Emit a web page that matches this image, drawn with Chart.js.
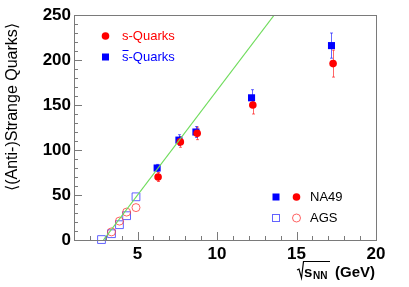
<!DOCTYPE html>
<html>
<head>
<meta charset="utf-8">
<script src="https://cdn.jsdelivr.net/npm/chart.js@4/dist/chart.umd.min.js"></script>
<style>
  body { margin: 0; background: #fff; }
  #wrap { width: 409px; height: 287px; }
</style>
</head>
<body>
<div id="wrap"><canvas id="c"></canvas></div>
<script>
// NA49 (filled markers)
var na49X_s = [6.29, 7.69, 8.75, 12.25, 17.3];
var na49Y_s = [70, 109, 118.5, 150, 196];
var na49E_s = [5, 6, 7, 10, 15];
var na49X_sbar = [6.23, 7.6, 8.67, 12.17, 17.2];
var na49Y_sbar = [80, 111, 120, 158, 216];
var na49E_sbar = [4, 6, 6, 9, 14];
// AGS (open markers)
var agsX_s = [3.36, 3.86, 4.31, 4.9];
var agsY_s = [9, 21, 31, 36];
var agsX_sbar = [2.73, 3.36, 3.86, 4.31, 4.9];
var agsY_sbar = [0.5, 7, 17, 27, 48];
// green line
var lineX = [2.85, 13.6];
var lineY = [0, 250];

var xTicks = [5, 10, 15, 20];
var yTicks = [0, 50, 100, 150, 200, 250];

function pts(xs, ys) {
    return xs.map(function (x, i) { return { x: x, y: ys[i] }; });
}

var RED = '#ff0000';
var BLUE = '#0000ff';

var errBars = [
    { xs: na49X_s, ys: na49Y_s, es: na49E_s, color: RED },
    { xs: na49X_sbar, ys: na49Y_sbar, es: na49E_sbar, color: BLUE }
];

var decor = {
    id: 'decor',
    beforeDatasetsDraw: function (chart) {
        var ctx = chart.ctx;
        var xs = chart.scales.x, ys = chart.scales.y;
        ctx.save();
        // error bars
        errBars.forEach(function (b) {
            ctx.strokeStyle = b.color;
            ctx.globalAlpha = 0.6;
            ctx.lineWidth = 1;
            b.xs.forEach(function (x, i) {
                var px = Math.round(xs.getPixelForValue(x)) + 0.5;
                var top = ys.getPixelForValue(b.ys[i] + b.es[i]);
                var bot = ys.getPixelForValue(b.ys[i] - b.es[i]);
                ctx.beginPath();
                ctx.moveTo(px, top); ctx.lineTo(px, bot);
                ctx.moveTo(px - 1.5, top); ctx.lineTo(px + 1.5, top);
                ctx.moveTo(px - 1.5, bot); ctx.lineTo(px + 1.5, bot);
                ctx.stroke();
            });
        });
        ctx.restore();
    },
    afterDraw: function (chart) {
        var ctx = chart.ctx, a = chart.chartArea;
        var xs = chart.scales.x, ys = chart.scales.y;
        ctx.save();
        // frame
        ctx.strokeStyle = '#7a7a7a';
        ctx.lineWidth = 1;
        ctx.strokeRect(Math.round(a.left) + 0.5, Math.round(a.top) + 0.5,
            Math.round(a.right - a.left), Math.round(a.bottom - a.top));
        // small ticks inside the frame
        ctx.beginPath();
        for (var v = 0; v <= 250; v += 10) {
            var py = Math.round(ys.getPixelForValue(v)) + 0.5;
            var len = (v % 50 === 0) ? 8 : 4;
            ctx.moveTo(a.left, py); ctx.lineTo(a.left + len, py);
        }
        for (var u = 2; u <= 20; u += 1) {
            var px = Math.round(xs.getPixelForValue(u)) + 0.5;
            var l2 = (u % 5 === 0) ? 8 : 4;
            ctx.moveTo(px, a.bottom); ctx.lineTo(px, a.bottom - l2);
        }
        ctx.stroke();

        // y title
        ctx.fillStyle = '#000';
        ctx.save();
        ctx.translate(13, 107);
        ctx.rotate(-Math.PI / 2);
        ctx.font = '16px "Liberation Sans", Arial, sans-serif';
        ctx.textAlign = 'center';
        ctx.textBaseline = 'middle';
        ctx.fillText('\u27E8(Anti-)Strange Quarks\u27E9', 0, 0);
        ctx.restore();

        // x title: sqrt(s_NN) (GeV)
        ctx.font = 'bold 15px "Liberation Sans", Arial, sans-serif';
        ctx.textAlign = 'left';
        ctx.textBaseline = 'alphabetic';
        var base = 277;
        ctx.fillText('s', 304, base);
        ctx.font = 'bold 10px "Liberation Sans", Arial, sans-serif';
        ctx.fillText('NN', 313, base + 2);
        ctx.font = 'bold 15px "Liberation Sans", Arial, sans-serif';
        ctx.fillText('(GeV)', 335, base);
        ctx.strokeStyle = '#000';
        ctx.lineWidth = 1.2;
        ctx.beginPath();
        ctx.moveTo(297, 270); ctx.lineTo(299, 269);
        ctx.lineTo(301.5, 278); ctx.lineTo(303.5, 261.5);
        ctx.lineTo(330, 261.5);
        ctx.stroke();

        // legend 1 (top left)
        ctx.font = '13px "Liberation Sans", Arial, sans-serif';
        ctx.textBaseline = 'middle';
        ctx.fillStyle = RED;
        ctx.beginPath(); ctx.arc(105.5, 36, 3.8, 0, Math.PI * 2); ctx.fill();
        ctx.fillText('s-Quarks', 122, 36);
        ctx.fillStyle = BLUE;
        ctx.fillRect(102, 53.5, 7, 7);
        ctx.fillText('s-Quarks', 122, 57);
        ctx.strokeStyle = BLUE;
        ctx.lineWidth = 1;
        ctx.beginPath(); ctx.moveTo(122.5, 50.5); ctx.lineTo(128.5, 50.5); ctx.stroke();

        // legend 2 (bottom right)
        ctx.fillStyle = BLUE;
        ctx.fillRect(272.5, 193.5, 7, 7);
        ctx.fillStyle = RED;
        ctx.beginPath(); ctx.arc(296.5, 197, 3.8, 0, Math.PI * 2); ctx.fill();
        ctx.fillStyle = '#000';
        ctx.fillText('NA49', 310, 197);
        ctx.strokeStyle = 'rgba(60,60,255,0.8)';
        ctx.strokeRect(272.5, 214.5, 7, 7);
        ctx.strokeStyle = 'rgba(255,60,60,0.8)';
        ctx.beginPath(); ctx.arc(296.5, 218, 4, 0, Math.PI * 2); ctx.stroke();
        ctx.fillText('AGS', 310, 218);
        ctx.restore();
    }
};

new Chart(document.getElementById('c'), {
    type: 'scatter',
    data: {
        datasets: [
            {
                type: 'line', data: pts(lineX, lineY), borderColor: '#6fdc5c',
                borderWidth: 1.2, pointRadius: 0, fill: false
            },
            {
                data: pts(agsX_s, agsY_s), pointStyle: 'circle', pointRadius: 4,
                backgroundColor: 'rgba(255,255,255,0)', borderColor: 'rgba(255,60,60,0.8)',
                pointBorderWidth: 1, clip: false
            },
            {
                data: pts(agsX_sbar, agsY_sbar), pointStyle: 'rect', pointRadius: 5.5,
                backgroundColor: 'rgba(255,255,255,0)', borderColor: 'rgba(60,60,255,0.8)',
                pointBorderWidth: 1, clip: false
            },
            {
                data: pts(na49X_s, na49Y_s), pointStyle: 'circle', pointRadius: 3.8,
                backgroundColor: RED, borderColor: RED, pointBorderWidth: 0, clip: false
            },
            {
                data: pts(na49X_sbar, na49Y_sbar), pointStyle: 'rect', pointRadius: 5,
                backgroundColor: BLUE, borderColor: BLUE, pointBorderWidth: 0, clip: false
            }
        ]
    },
    options: {
        responsive: true,
        maintainAspectRatio: false,
        animation: false,
        layout: { padding: { left: 0, top: 15, right: 33, bottom: 0 } },
        plugins: { legend: { display: false }, tooltip: { enabled: false } },
        scales: {
            x: {
                type: 'linear', min: 1, max: 20,
                grid: { display: false, drawTicks: false },
                border: { display: false },
                afterBuildTicks: function (s) { s.ticks = xTicks.map(function (v) { return { value: v }; }); },
                afterFit: function (s) { s.height = 47; },
                ticks: {
                    padding: 4, color: '#000', maxRotation: 0, autoSkip: false,
                    font: { family: '"Liberation Sans", Arial, sans-serif', size: 17, weight: 'bold' }
                }
            },
            y: {
                type: 'linear', min: 0, max: 250,
                grid: { display: false, drawTicks: false },
                border: { display: false },
                afterBuildTicks: function (s) { s.ticks = yTicks.map(function (v) { return { value: v }; }); },
                afterFit: function (s) { s.width = 74; },
                ticks: {
                    padding: 3, color: '#000', autoSkip: false,
                    font: { family: '"Liberation Sans", Arial, sans-serif', size: 17, weight: 'bold' }
                }
            }
        }
    },
    plugins: [decor]
});
</script>
</body>
</html>
